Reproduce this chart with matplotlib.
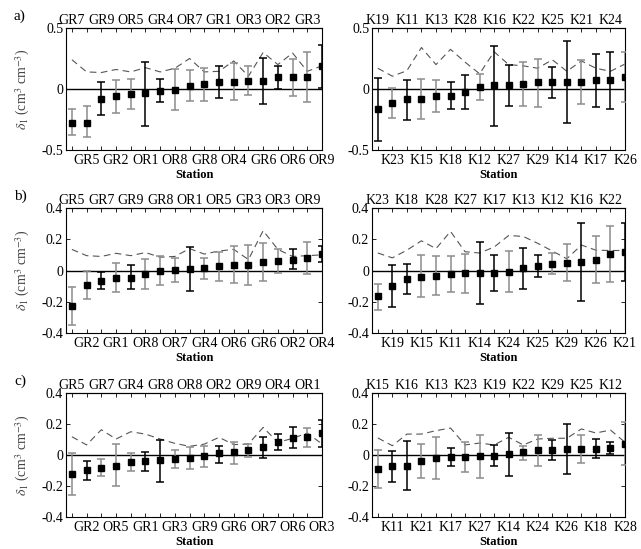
import numpy as np
import matplotlib
matplotlib.use("Agg")
import matplotlib.pyplot as plt

plt.rcParams['font.family'] = ['Liberation Serif', 'DejaVu Serif']
plt.rcParams['mathtext.fontset'] = 'stix'
plt.rcParams['axes.unicode_minus'] = False

# ---- data: station order left to right, mean, error bar ends, dashed line, bar colour (1 = grey)
a_left_names = ['GR7', 'GR5', 'GR9', 'GR2', 'OR5', 'OR1', 'GR4', 'OR8', 'OR7',
                'GR8', 'GR1', 'OR4', 'OR3', 'GR6', 'OR2', 'OR6', 'GR3', 'OR9']
a_left_mean = [-0.275, -0.275, -0.08, -0.06, -0.045, -0.035, -0.015, -0.005, 0.025,
               0.04, 0.055, 0.06, 0.065, 0.065, 0.095, 0.10, 0.10, 0.185]
a_left_lo = [-0.38, -0.395, -0.215, -0.195, -0.16, -0.305, -0.105, -0.175, -0.10,
             -0.10, -0.07, -0.09, -0.05, -0.12, 0.0, -0.055, -0.105, 0.005]
a_left_hi = [-0.16, -0.14, 0.06, 0.07, 0.085, 0.225, 0.085, 0.165, 0.155,
             0.175, 0.19, 0.21, 0.185, 0.255, 0.19, 0.245, 0.305, 0.36]
a_left_dash = [0.24, 0.14, 0.135, 0.16, 0.14, 0.175, 0.14, 0.17, 0.25,
               0.14, 0.145, 0.23, 0.105, 0.30, 0.20, 0.295, 0.145, 0.19]
a_left_grey = [1, 1, 0, 1, 1, 0, 0, 1, 1, 1, 0, 1, 1, 0, 0, 1, 1, 0]

a_right_names = ['K19', 'K23', 'K11', 'K15', 'K13', 'K18', 'K28', 'K12', 'K16',
                 'K27', 'K22', 'K29', 'K25', 'K14', 'K21', 'K17', 'K24', 'K26']
a_right_mean = [-0.165, -0.115, -0.085, -0.08, -0.055, -0.055, -0.025, 0.015, 0.03,
                0.03, 0.045, 0.055, 0.055, 0.055, 0.055, 0.075, 0.075, 0.10]
a_right_lo = [-0.43, -0.24, -0.25, -0.245, -0.185, -0.165, -0.16, -0.09, -0.305,
              -0.14, -0.14, -0.145, -0.07, -0.28, -0.12, -0.145, -0.16, -0.105]
a_right_hi = [0.09, 0.01, 0.075, 0.085, 0.075, 0.055, 0.115, 0.12, 0.355,
              0.195, 0.225, 0.245, 0.18, 0.39, 0.235, 0.285, 0.305, 0.305]
a_right_dash = [0.17, 0.105, 0.15, 0.34, 0.20, 0.325, 0.22, 0.125, 0.305,
                0.20, 0.19, 0.17, 0.24, 0.145, 0.23, 0.17, 0.145, 0.205]
a_right_grey = [0, 1, 0, 1, 1, 0, 0, 1, 0, 0, 1, 1, 0, 0, 1, 0, 0, 1]

b_left_names = ['GR5', 'GR2', 'GR7', 'GR1', 'GR9', 'OR8', 'GR8', 'OR7', 'OR1',
                'GR4', 'OR5', 'OR6', 'GR3', 'GR6', 'OR3', 'OR2', 'OR9', 'OR4']
b_left_mean = [-0.225, -0.095, -0.065, -0.05, -0.045, -0.02, 0.0, 0.005, 0.01,
               0.015, 0.03, 0.035, 0.035, 0.055, 0.06, 0.07, 0.08, 0.105]
b_left_lo = [-0.35, -0.185, -0.12, -0.14, -0.12, -0.12, -0.095, -0.075, -0.13,
             -0.055, -0.065, -0.08, -0.09, -0.07, -0.015, 0.01, -0.02, 0.055]
b_left_hi = [-0.105, -0.005, -0.01, 0.045, 0.035, 0.075, 0.095, 0.08, 0.15,
             0.08, 0.12, 0.155, 0.165, 0.175, 0.135, 0.135, 0.185, 0.155]
b_left_dash = [0.135, 0.095, 0.09, 0.11, 0.095, 0.115, 0.085, 0.09, 0.14,
               0.105, 0.125, 0.135, 0.07, 0.255, 0.135, 0.09, 0.095, 0.10]
b_left_grey = [1, 1, 0, 1, 0, 1, 1, 1, 0, 1, 1, 1, 1, 1, 1, 0, 1, 0]

b_right_names = ['K23', 'K19', 'K18', 'K15', 'K28', 'K11', 'K27', 'K14', 'K17',
                 'K24', 'K13', 'K25', 'K12', 'K29', 'K16', 'K26', 'K22', 'K21']
b_right_mean = [-0.163, -0.099, -0.055, -0.04, -0.033, -0.024, -0.018, -0.013, -0.013,
                -0.011, 0.015, 0.029, 0.042, 0.05, 0.055, 0.07, 0.105, 0.12]
b_right_lo = [-0.25, -0.235, -0.15, -0.17, -0.158, -0.14, -0.145, -0.215, -0.13,
              -0.14, -0.12, -0.044, -0.024, -0.07, -0.196, -0.08, -0.075, -0.07]
b_right_hi = [-0.086, 0.035, 0.04, 0.097, 0.092, 0.092, 0.105, 0.18, 0.10,
              0.125, 0.147, 0.097, 0.112, 0.17, 0.305, 0.218, 0.288, 0.305]
b_right_dash = [0.112, 0.081, 0.13, 0.19, 0.14, 0.25, 0.12, 0.112, 0.15,
                0.224, 0.218, 0.174, 0.125, 0.075, 0.163, 0.13, 0.128, 0.128]
b_right_grey = [1, 0, 0, 1, 1, 1, 1, 0, 0, 1, 0, 0, 1, 1, 0, 1, 1, 0]

c_left_names = ['GR5', 'GR2', 'GR7', 'OR5', 'GR4', 'GR1', 'GR8', 'GR3', 'OR8',
                'GR9', 'OR2', 'GR6', 'OR9', 'OR7', 'OR4', 'OR6', 'OR1', 'OR3']
c_left_mean = [-0.123, -0.097, -0.082, -0.069, -0.043, -0.039, -0.034, -0.024, -0.019,
               -0.009, 0.011, 0.022, 0.034, 0.049, 0.082, 0.112, 0.114, 0.14]
c_left_lo = [-0.256, -0.16, -0.133, -0.198, -0.103, -0.10, -0.172, -0.082, -0.088,
             -0.075, -0.052, -0.056, -0.013, -0.017, 0.03, 0.043, 0.049, 0.054]
c_left_hi = [0.013, -0.04, -0.028, 0.069, 0.011, 0.017, 0.097, 0.034, 0.052,
             0.056, 0.06, 0.086, 0.071, 0.116, 0.133, 0.178, 0.176, 0.226]
c_left_dash = [0.118, 0.065, 0.163, 0.103, 0.15, 0.135, 0.103, 0.075, 0.056,
               0.07, 0.114, 0.067, 0.071, 0.178, 0.082, 0.107, 0.142, 0.071]
c_left_grey = [1, 0, 1, 1, 1, 0, 0, 1, 1, 1, 0, 1, 1, 0, 0, 0, 1, 0]

c_right_names = ['K15', 'K11', 'K16', 'K21', 'K13', 'K17', 'K23', 'K27', 'K19',
                 'K14', 'K22', 'K24', 'K29', 'K26', 'K25', 'K18', 'K12', 'K28']
c_right_mean = [-0.092, -0.071, -0.069, -0.039, -0.019, -0.013, -0.011, -0.004, -0.004,
                0.004, 0.022, 0.03, 0.034, 0.041, 0.041, 0.041, 0.045, 0.073]
c_right_lo = [-0.21, -0.172, -0.226, -0.15, -0.155, -0.069, -0.112, -0.148, -0.069,
              -0.133, -0.03, -0.073, -0.03, -0.123, -0.049, -0.017, 0.004, -0.065]
c_right_hi = [0.03, 0.026, 0.092, 0.069, 0.114, 0.045, 0.086, 0.131, 0.067,
              0.14, 0.06, 0.131, 0.097, 0.198, 0.129, 0.103, 0.082, 0.211]
c_right_dash = [0.11, 0.06, 0.135, 0.135, 0.157, 0.174, 0.065, 0.077, 0.065,
                0.114, 0.065, 0.103, 0.108, 0.108, 0.168, 0.142, 0.161, 0.082]
c_right_grey = [1, 0, 0, 1, 1, 0, 1, 1, 0, 0, 1, 1, 0, 0, 1, 0, 0, 1]

panels = [
    (a_left_names, a_left_mean, a_left_lo, a_left_hi, a_left_dash, a_left_grey),
    (a_right_names, a_right_mean, a_right_lo, a_right_hi, a_right_dash, a_right_grey),
    (b_left_names, b_left_mean, b_left_lo, b_left_hi, b_left_dash, b_left_grey),
    (b_right_names, b_right_mean, b_right_lo, b_right_hi, b_right_dash, b_right_grey),
    (c_left_names, c_left_mean, c_left_lo, c_left_hi, c_left_dash, c_left_grey),
    (c_right_names, c_right_mean, c_right_lo, c_right_hi, c_right_dash, c_right_grey),
]
row_letters = ['a)', 'b)', 'c)']

W, H = 641, 549
fig = plt.figure(figsize=(W / 100, H / 100), dpi=100)

# axes boxes in pixels: (left, top, right, bottom)
col_x = [(66, 322), (372, 625)]
row_y = [(28, 150), (208, 333), (393, 517)]

for k, (names, mean, lo, hi, dash, grey) in enumerate(panels):
    r, c = divmod(k, 2)
    x0, x1 = col_x[c]
    y0, y1 = row_y[r]
    ax = fig.add_axes([x0 / W, 1 - y1 / H, (x1 - x0) / W, (y1 - y0) / H])

    x = np.arange(1, len(names) + 1)
    mean = np.array(mean)
    lo = np.array(lo)
    hi = np.array(hi)

    ax.axhline(0, color='black', lw=1.0, zorder=1)
    ax.plot(x, dash, color='#555555', lw=0.8, dashes=(6, 4), zorder=2)
    for xi, m, l, h, g in zip(x, mean, lo, hi, grey):
        ax.errorbar(xi, m, yerr=[[m - l], [h - m]], fmt='none',
                    ecolor='#8c8c8c' if g else 'black', elinewidth=1.1,
                    capsize=3.2, capthick=1.1, zorder=3)
    ax.plot(x, mean, 's', color='black', ms=4, zorder=4)

    ax.set_xlim(0.6, 18)
    if r == 0:
        ax.set_ylim(-0.5, 0.5)
        ax.set_yticks([-0.5, 0, 0.5])
        ax.set_yticklabels(['-0.5', '0', '0.5'])
    else:
        ax.set_ylim(-0.4, 0.4)
        ax.set_yticks([-0.4, -0.2, 0, 0.2, 0.4])
        ax.set_yticklabels(['-0.4', '-0.2', '0', '0.2', '0.4'])

    ax.set_xticks(x)
    ax.set_xticklabels([n if i % 2 == 1 else '' for i, n in enumerate(names)])
    top = ax.secondary_xaxis('top')
    top.set_xticks(x)
    top.set_xticklabels([n if i % 2 == 0 else '' for i, n in enumerate(names)])
    top.tick_params(direction='in', length=3, width=0.6, labelsize=10, pad=1)

    ax.tick_params(axis='x', direction='in', length=3, width=0.6, labelsize=10, pad=3)
    ax.tick_params(axis='y', direction='in', length=3, width=0.6, labelsize=10,
                   right=True, pad=2)
    for s in ax.spines.values():
        s.set_linewidth(0.8)
    for s in top.spines.values():
        s.set_linewidth(0.8)

    ax.set_xlabel('Station', fontsize=9, fontweight='bold', labelpad=1)
    if c == 0:
        ax.set_ylabel(r'$\delta_1$ (cm$^3$ cm$^{-3}$)', fontsize=10, color='#444444',
                      labelpad=7)
        fig.text(14 / W, 1 - (y0 - 12) / H, row_letters[r], fontsize=11,
                 ha='left', va='center')

fig.savefig('out.png', dpi=100)
